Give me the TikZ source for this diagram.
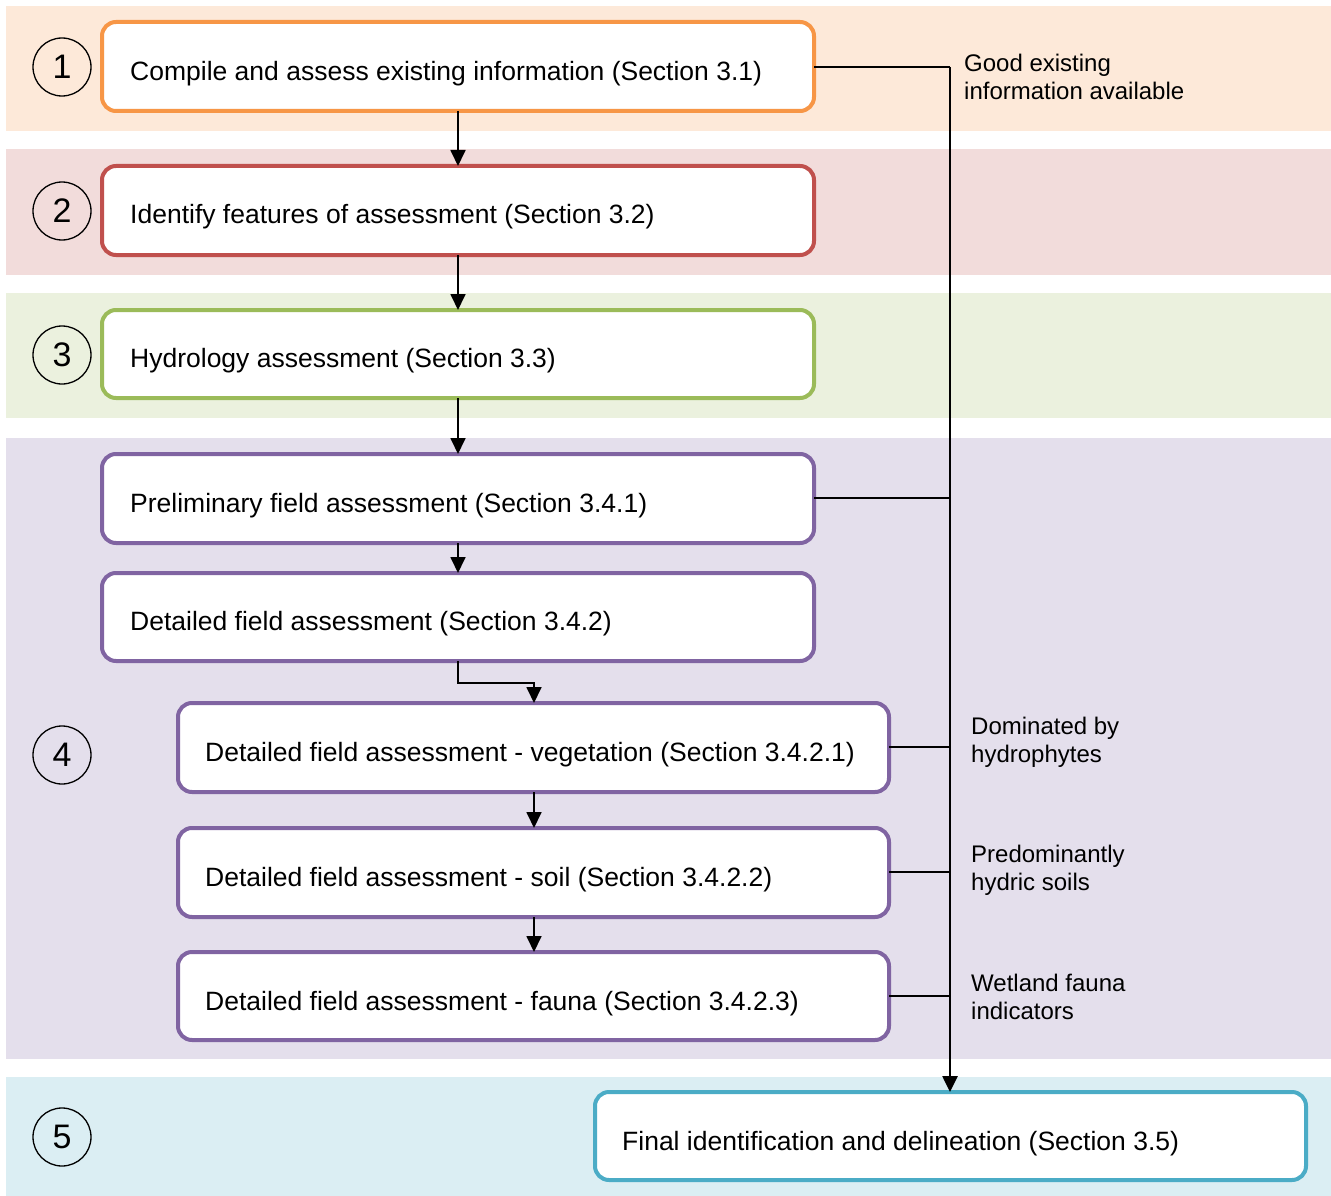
\documentclass[tikz,border=0pt]{standalone}
\usepackage{fontspec}
\setmainfont{Liberation Sans}
\usetikzlibrary{arrows.meta}
\definecolor{bandA}{HTML}{FDE9D9}
\definecolor{bandB}{HTML}{F2DCDB}
\definecolor{bandC}{HTML}{EBF1DE}
\definecolor{bandD}{HTML}{E4DFEC}
\definecolor{bandE}{HTML}{DBEEF3}
\definecolor{cA}{HTML}{F79646}
\definecolor{cB}{HTML}{C0504D}
\definecolor{cC}{HTML}{9BBB59}
\definecolor{cD}{HTML}{8064A2}
\definecolor{cE}{HTML}{4BACC6}
\tikzset{
  stepbox/.style={draw=#1, line width=4pt, fill=white, rounded corners=14pt},
  boxtext/.style={anchor=west, font=\fontsize{26.5}{30}\selectfont, inner sep=0pt},
  sidetext/.style={anchor=west, align=left, font=\fontsize{24}{28}\selectfont, inner sep=0pt},
  numcirc/.style={draw, circle, line width=1.3pt, minimum size=58pt, inner sep=0pt, font=\fontsize{34}{34}\selectfont},
  flow/.style={line width=1.8pt, -{Triangle[length=16pt,width=15pt]}},
  side/.style={line width=1.8pt},
  trunk/.style={line width=2.6pt, -{Triangle[length=16pt,width=15pt]}}
}
\begin{document}
\begin{tikzpicture}[x=1pt,y=-1pt]
\useasboundingbox (0,0) rectangle (1331,1196);
% bands
\fill[bandA] (6,6) rectangle (1331,131);
\fill[bandB] (6,149) rectangle (1331,275);
\fill[bandC] (6,293) rectangle (1331,418);
\fill[bandD] (6,438) rectangle (1331,1059);
\fill[bandE] (6,1077) rectangle (1331,1196);
% circles
\node[numcirc] (n1) at (62,67) {1};
\node[numcirc] (n2) at (62,211) {2};
\node[numcirc] (n3) at (62,355) {3};
\node[numcirc] (n4) at (62,755) {4};
\node[numcirc] (n5) at (62,1137) {5};
% boxes
\draw[stepbox=cA] (102,22) rectangle (814,111);
\coordinate (b1t) at (458,22); \coordinate (b1b) at (458,111); \coordinate (b1r) at (814,67);
\node[boxtext] (t1) at (130,74) {Compile and assess existing information (Section 3.1)};
\draw[stepbox=cB] (102,166) rectangle (814,255);
\coordinate (b2t) at (458,166); \coordinate (b2b) at (458,255);
\node[boxtext] (t2) at (130,217) {Identify features of assessment (Section 3.2)};
\draw[stepbox=cC] (102,310) rectangle (814,398);
\coordinate (b3t) at (458,310); \coordinate (b3b) at (458,398);
\node[boxtext] (t3) at (130,361) {Hydrology assessment (Section 3.3)};
\draw[stepbox=cD] (102,454) rectangle (814,543);
\coordinate (b4t) at (458,454); \coordinate (b4b) at (458,543); \coordinate (b4r) at (814,498);
\node[boxtext] (t4) at (130,506) {Preliminary field assessment (Section 3.4.1)};
\draw[stepbox=cD] (102,573) rectangle (814,661);
\coordinate (b5t) at (458,573); \coordinate (b5b) at (458,661);
\node[boxtext] (t5) at (130,624) {Detailed field assessment (Section 3.4.2)};
\draw[stepbox=cD] (178,703) rectangle (889,792);
\coordinate (b6t) at (534,703); \coordinate (b6b) at (534,792); \coordinate (b6r) at (889,747);
\node[boxtext] (t6) at (205,755) {Detailed field assessment - vegetation (Section 3.4.2.1)};
\draw[stepbox=cD] (178,828) rectangle (889,917);
\coordinate (b7t) at (534,828); \coordinate (b7b) at (534,917); \coordinate (b7r) at (889,872);
\node[boxtext] (t7) at (205,880) {Detailed field assessment - soil (Section 3.4.2.2)};
\draw[stepbox=cD] (178,952) rectangle (889,1040);
\coordinate (b8t) at (534,952); \coordinate (b8r) at (889,996);
\node[boxtext] (t8) at (205,1004) {Detailed field assessment - fauna (Section 3.4.2.3)};
\draw[stepbox=cE] (595,1092) rectangle (1306,1180);
\coordinate (b9t) at (950,1092);
\node[boxtext] (t9) at (622,1144) {Final identification and delineation (Section 3.5)};
% flow arrows
\draw[flow] (b1b) -- (b2t);
\draw[flow] (b2b) -- (b3t);
\draw[flow] (b3b) -- (b4t);
\draw[flow] (b4b) -- (b5t);
\draw[flow] (b5b) -- (458,683) -- (534,683) -- (b6t);
\draw[flow] (b6b) -- (b7t);
\draw[flow] (b7b) -- (b8t);
% trunk
\coordinate (j1) at (950,67);
\draw[side] (b1r) -- (j1);
\draw[trunk] (j1) -- (b9t);
\draw[side] (b4r) -- (950,498);
\draw[side] (b6r) -- (950,747);
\draw[side] (b7r) -- (950,872);
\draw[side] (b8r) -- (950,996);
% side labels
\node[sidetext] (s1) at (964,77) {Good existing\\information available};
\node[sidetext] (s2) at (971,742) {Dominated by\\hydrophytes};
\node[sidetext] (s3) at (971,870) {Predominantly\\hydric soils};
\node[sidetext] (s4) at (971,997) {Wetland fauna\\indicators};
\end{tikzpicture}
\end{document}
